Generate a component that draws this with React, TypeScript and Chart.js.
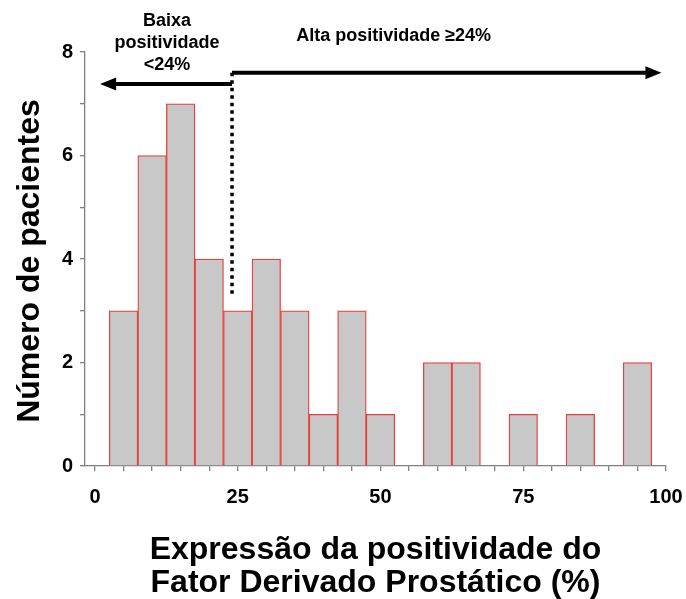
import React, { useEffect, useRef } from "react";
import { Chart, registerables } from "chart.js";

Chart.register(...registerables);

// ---- data ----
const binCenters = [5, 10, 15, 20, 25, 30, 35, 40, 45, 50, 60, 65, 75, 85, 95];
const patientCounts = [3, 6, 7, 4, 3, 4, 3, 1, 3, 1, 2, 2, 1, 1, 2];
const xTickLabels = [0, 25, 50, 75, 100];
const yTickLabels = [0, 2, 4, 6, 8];
const cutoffValue = 24;
const cutoffLineY = [3.25, 7.6];
const lowArrowX = [24, 0.9];
const lowArrowY = 7.38;
const highArrowX = [24, 99.2];
const highArrowY = 7.6;
const lowLabelLines = ["Baixa", "positividade", "<24%"];
const highLabel = "Alta positividade \u226524%";
const yTitle = "Número de pacientes";
const xTitleLines = ["Expressão da positividade do", "Fator Derivado Prostático (%)"];

const FONT = '"Liberation Sans", Arial, sans-serif';

const annotationPlugin = {
  id: "annotations",
  afterDraw(chart: any) {
    const ctx = chart.ctx;
    const xs = chart.scales.x;
    const ys = chart.scales.y;
    ctx.save();
    // dotted cutoff line
    const cx = xs.getPixelForValue(cutoffValue);
    ctx.strokeStyle = "#000";
    ctx.lineWidth = 3.5;
    ctx.setLineDash([3.5, 4]);
    ctx.beginPath();
    ctx.moveTo(cx, ys.getPixelForValue(cutoffLineY[1]));
    ctx.lineTo(cx, ys.getPixelForValue(cutoffLineY[0]));
    ctx.stroke();
    ctx.setLineDash([]);

    const arrow = (x0: number, x1: number, y: number) => {
      const p0 = xs.getPixelForValue(x0);
      const p1 = xs.getPixelForValue(x1);
      const py = ys.getPixelForValue(y);
      const dir = p1 > p0 ? 1 : -1;
      const headLen = 16;
      const headHalf = 6.5;
      ctx.lineWidth = 4;
      ctx.strokeStyle = "#000";
      ctx.beginPath();
      ctx.moveTo(p0, py);
      ctx.lineTo(p1 - dir * headLen * 0.8, py);
      ctx.stroke();
      ctx.fillStyle = "#000";
      ctx.beginPath();
      ctx.moveTo(p1, py);
      ctx.lineTo(p1 - dir * headLen, py - headHalf);
      ctx.lineTo(p1 - dir * headLen, py + headHalf);
      ctx.closePath();
      ctx.fill();
    };
    arrow(lowArrowX[0], lowArrowX[1], lowArrowY);
    arrow(highArrowX[0], highArrowX[1], highArrowY);

    // annotation labels
    ctx.fillStyle = "#000";
    ctx.font = `bold 18px ${FONT}`;
    ctx.textAlign = "center";
    ctx.textBaseline = "middle";
    const lowCenter = (xs.getPixelForValue(lowArrowX[1]) + cx) / 2 + 1;
    lowLabelLines.forEach((t, i) => ctx.fillText(t, lowCenter, 21 + i * 22));
    const highCenter = xs.getPixelForValue(52.3);
    ctx.fillText(highLabel, highCenter, 36);

    // axis titles
    ctx.font = `bold 32px ${FONT}`;
    ctx.save();
    ctx.translate(30, (chart.chartArea.top + chart.chartArea.bottom) / 2 + 2);
    ctx.rotate(-Math.PI / 2);
    ctx.textBaseline = "middle";
    ctx.fillText(yTitle, 0, 0);
    ctx.restore();
    const xc = (chart.chartArea.left + chart.chartArea.right) / 2;
    ctx.textBaseline = "alphabetic";
    xTitleLines.forEach((t, i) => ctx.fillText(t, xc, 559 + i * 33));
    ctx.restore();
  },
};

export default function App() {
  const ref = useRef<HTMLCanvasElement>(null);
  useEffect(() => {
    document.body.style.margin = "0";
    const chart = new Chart(ref.current!, {
      type: "bar",
      data: {
        datasets: [
          {
            data: binCenters.map((x, i) => ({ x, y: patientCounts[i] })),
            backgroundColor: "#c8c8c8",
            borderColor: "#e8403a",
            borderWidth: 1.3,
            barPercentage: 1,
            categoryPercentage: 1,
          },
        ],
      },
      options: {
        animation: false,
        responsive: false,
        layout: { padding: { top: 52, right: 20, left: 0, bottom: 0 } },
        plugins: { legend: { display: false }, tooltip: { enabled: false } },
        scales: {
          x: {
            type: "linear",
            offset: false,
            min: -1.75,
            max: 100,
            afterFit: (s: any) => {
              s.height = 133;
              s.paddingLeft = 0;
              s.paddingRight = 0;
            },
            border: { color: "#808080", width: 1.3 },
            grid: { offset: false, drawOnChartArea: false, drawTicks: true, tickLength: 5, color: "#808080", lineWidth: 1.3 },
            ticks: {
              stepSize: 5,
              includeBounds: false,
              autoSkip: false,
              maxRotation: 0,
              padding: 14,
              color: "#000",
              font: { family: FONT, size: 20, weight: "bold" },
              callback: (v: any) => (xTickLabels.includes(Number(v)) ? String(v) : ""),
            },
          },
          y: {
            min: 0,
            max: 8,
            afterFit: (s: any) => {
              s.width = 85;
              s.paddingTop = 0;
              s.paddingBottom = 0;
            },
            border: { color: "#808080", width: 1.3 },
            grid: { drawOnChartArea: false, drawTicks: true, tickLength: 5, color: "#808080", lineWidth: 1.3 },
            ticks: {
              stepSize: 1,
              autoSkip: false,
              padding: 7,
              color: "#000",
              font: { family: FONT, size: 20, weight: "bold" },
              callback: (v: any) => (yTickLabels.includes(Number(v)) ? String(v) : ""),
            },
          },
        },
      },
      plugins: [annotationPlugin],
    } as any);
    return () => chart.destroy();
  }, []);
  return (
    <canvas
      ref={ref}
      width={686}
      height={599}
      style={{ position: "absolute", left: 0, top: 0, display: "block" }}
    />
  );
}
